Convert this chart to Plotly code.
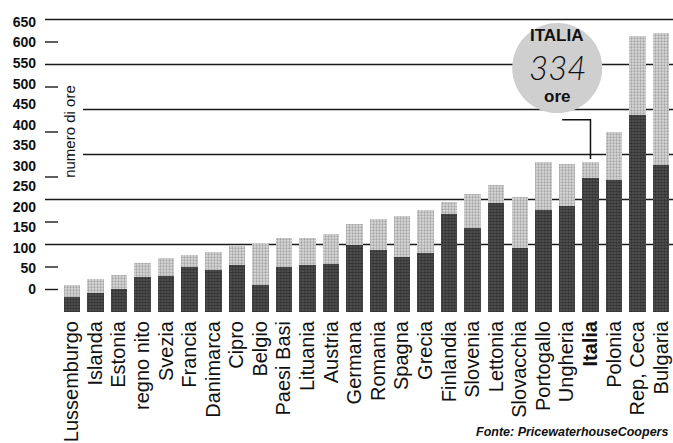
import plotly.graph_objects as go

# Ore annue necessarie per adempiere agli obblighi fiscali, per paese
countries = ["Lussemburgo", "Islanda", "Estonia", "regno nito", "Svezia", "Francia",
             "Danimarca", "Cipro", "Belgio", "Paesi Basi", "Lituania", "Austria",
             "Germana", "Romania", "Spagna", "Grecia", "Finlandia", "Slovenia",
             "Lettonia", "Slovacchia", "Portogallo", "Ungheria", "Italia", "Polonia",
             "Rep, Ceca", "Bulgaria"]
total_hours = [61, 73, 82, 109, 120, 127, 134, 147, 153, 165, 165, 173, 196, 206,
               214, 227, 245, 262, 282, 256, 333, 330, 334, 399, 613, 620]
dark_hours = [33, 42, 51, 78, 81, 99, 93, 104, 60, 101, 104, 107, 149, 138,
              123, 132, 217, 186, 242, 142, 227, 236, 297, 293, 438, 327]
light_hours = [t - d for t, d in zip(total_hours, dark_hours)]

axis_labels = list(range(0, 651, 50))
grid_levels = [150, 250, 550, 650]
grid_levels_short = [350, 450]
dash_levels = [50, 100, 200, 300, 400, 500, 600]

italia_hours = total_hours[countries.index("Italia")]

W, H = 673, 443
ML, MR, MT, MB = 36, 0, 10, 131
plot_w = W - ML - MR


def px_x(p):
    return (p - ML) / plot_w


tick_text = [f"<b>{c}</b>" if c == "Italia" else c for c in countries]

fig = go.Figure()
fig.add_trace(go.Bar(
    x=countries, y=dark_hours, width=0.7,
    marker=dict(color="#444444", line=dict(width=0),
                pattern=dict(shape=".", bgcolor="#555555", fgcolor="#111111",
                             size=3, solidity=0.6)),
    showlegend=False, hoverinfo="skip",
))
fig.add_trace(go.Bar(
    x=countries, y=light_hours, width=0.7,
    marker=dict(color="#bdbdbd", line=dict(width=0),
                pattern=dict(shape=".", bgcolor="#dadada", fgcolor="#707070",
                             size=3, solidity=0.45)),
    showlegend=False, hoverinfo="skip",
))
# invisible trace that carries the printed scale on the left
fig.add_trace(go.Scatter(x=[countries[0]], y=[0], yaxis="y2", mode="markers",
                         marker=dict(opacity=0), showlegend=False, hoverinfo="skip"))

shapes = []
for v in grid_levels:
    shapes.append(dict(type="line", xref="paper", yref="y", x0=px_x(45), x1=1,
                       y0=v, y1=v, line=dict(color="#1a1a1a", width=1.4), layer="below"))
for v in grid_levels_short:
    shapes.append(dict(type="line", xref="paper", yref="y", x0=px_x(83), x1=1,
                       y0=v, y1=v, line=dict(color="#1a1a1a", width=1.4), layer="below"))
for v in dash_levels:
    shapes.append(dict(type="line", xref="paper", yref="y", x0=px_x(45), x1=px_x(58),
                       y0=v, y1=v, line=dict(color="#1a1a1a", width=1.4), layer="below"))

# callout bubble for Italy
cx, cy = 20.59, 542
shapes.append(dict(type="circle", xref="x", yref="y", x0=cx - 1.91, x1=cx + 1.91,
                   y0=cy - 100, y1=cy + 100, fillcolor="#cfcfcf",
                   line=dict(width=0), layer="above"))
i_idx = countries.index("Italia")
shapes.append(dict(type="path", xref="x", yref="y",
                   path=f"M {20.8},{427} L {i_idx},{427} L {i_idx},{italia_hours + 6}",
                   line=dict(color="#111", width=1.5), layer="above"))

annotations = [
    dict(x=cx, y=614, xref="x", yref="y", text="<b>ITALIA</b>", showarrow=False,
         font=dict(family="Liberation Sans", size=17, color="#111")),
    dict(x=cx, y=544, xref="x", yref="y", text=f"<i>{italia_hours}</i>", showarrow=False,
         font=dict(family="Lato", size=33, color="#111", weight=300)),
    dict(x=cx, y=478, xref="x", yref="y", text="<b>ore</b>", showarrow=False,
         font=dict(family="Liberation Sans", size=17, color="#111")),
    dict(x=-0.13, y=402, xref="x", yref="y", text="numero di ore", textangle=-90,
         showarrow=False, font=dict(family="Liberation Sans", size=15, color="#111")),
    dict(x=0.995, y=(H - MB - 432) / (H - MT - MB), xref="paper", yref="paper",
         xanchor="right", yanchor="middle",
         text="<b><i>Fonte: PricewaterhouseCoopers</i></b>",
         showarrow=False, font=dict(family="Liberation Sans", size=12.5, color="#111")),
]

y_top = (H - MT - MB) / 0.45
fig.update_layout(
    width=W, height=H,
    margin=dict(l=ML, r=MR, t=MT, b=MB),
    barmode="stack", bargap=0.3,
    plot_bgcolor="white", paper_bgcolor="white",
    font=dict(family="Liberation Sans", color="#111"),
    xaxis=dict(domain=[px_x(60), 1], range=[-0.5, len(countries) - 0.5],
               tickmode="array", tickvals=countries, ticktext=tick_text,
               tickangle=-90, tickfont=dict(size=20, color="#111"),
               ticklabelstandoff=4,
               showgrid=False, zeroline=False, showline=False, ticks=""),
    yaxis=dict(range=[0, y_top], showgrid=False, zeroline=False,
               showticklabels=False, showline=False, ticks=""),
    yaxis2=dict(overlaying="y", anchor="free", position=0, side="left",
                range=[-56, 679.2], tickmode="array", tickvals=axis_labels,
                ticktext=[f"<b>{v}</b>" for v in axis_labels],
                tickfont=dict(size=14, color="#111"), showgrid=False,
                zeroline=False, showline=False, ticks=""),
    shapes=shapes, annotations=annotations,
)

fig.write_html("out.html")
